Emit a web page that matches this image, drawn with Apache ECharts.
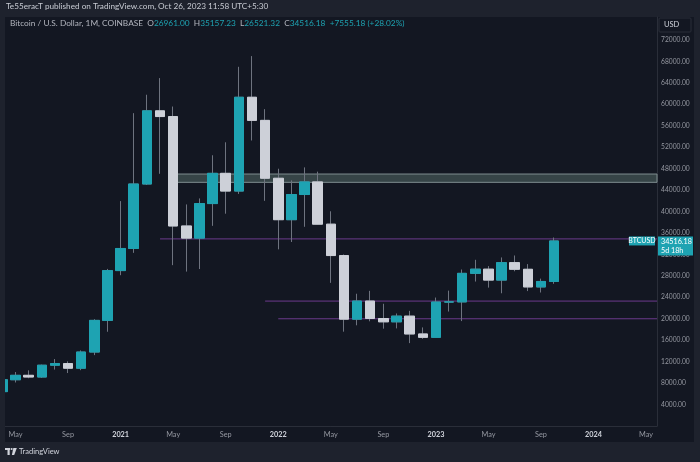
<!DOCTYPE html>
<html><head><meta charset="utf-8">
<script src="https://cdn.jsdelivr.net/npm/echarts@6/dist/echarts.min.js"></script>
<style>html,body{margin:0;padding:0;background:#1e222d;}#c{width:700px;height:462px;}</style>
</head><body><div id="c"></div>
<script>
// ---- data (monthly BTCUSD, Coinbase) ----
const months = ['2020-04','2020-05','2020-06','2020-07','2020-08','2020-09','2020-10','2020-11','2020-12',
  '2021-01','2021-02','2021-03','2021-04','2021-05','2021-06','2021-07','2021-08','2021-09','2021-10','2021-11','2021-12',
  '2022-01','2022-02','2022-03','2022-04','2022-05','2022-06','2022-07','2022-08','2022-09','2022-10','2022-11','2022-12',
  '2023-01','2023-02','2023-03','2023-04','2023-05','2023-06','2023-07','2023-08','2023-09','2023-10'];
const open  = [6412,8629,9454,9138,11335,11645,10777,13797,19700, 28990,33114,45138,58790,57720,37310,35045,41490,47130,43824,61319,57006, 46211,38483,43178,45530,37644,31793,19927,23307,20050,19431,20494,17168, 16542,23125,23147,28473,29252,27217,30472,29231,25941,26961.00];
const high  = [9460,10067,10380,11444,12486,12067,14100,19918,29300, 41950,58352,61788,64895,59592,41330,42448,50500,52920,67000,69000,59100, 47990,45821,48240,47444,40050,31990,24670,25212,22800,20989,21480,18390, 23960,25250,29190,31000,29830,31440,31804,30200,27488,35157.23];
const low   = [6150,8117,8910,8977,10525,9880,10416,13220,17580, 28130,32296,44950,47044,30000,28800,29278,37332,39600,43284,53256,42000, 32951,34323,37156,37697,26701,17592,18782,19530,18153,18205,15460,16256, 16500,21351,19569,26942,25811,24756,28861,25166,24901,26521.32];
const close = [8629,9454,9138,11335,11645,10777,13797,19700,28990, 33114,45138,58790,57720,37310,35045,41490,47130,43824,61319,57006,46211, 38483,43178,45530,37644,31793,19927,23307,20050,19431,20494,17168,16542, 23125,23147,28473,29252,27217,30472,29231,25941,26961,34516.18];
const timeTicks = ['2020-05','2020-09','2021-01','2021-05','2021-09','2022-01','2022-05','2022-09','2023-01','2023-05','2023-09','2024-01','2024-05'];
const monthNames = ['Jan','Feb','Mar','Apr','May','Jun','Jul','Aug','Sep','Oct','Nov','Dec'];
const levelValues = [34900, 23300, 20000];
const levelStarts = ['2021-04', '2021-12', '2022-01'];
const zoneRange = [45450, 47000];
const zoneStart = '2021-05';
const symbolName = 'BTCUSD';
const countdown = '5d 18h';

// ---- helpers ----
const idx = m => { const [y, mo] = m.split('-').map(Number); return (y - 2020) * 12 + (mo - 1); };
const X_MIN = 3.2, X_MAX = 52.83;
const UP = '#1ea3b2', DOWN = '#cdd0d8', WICK = '#6e737f', LEVEL = '#6b3a8c';
const FONT = 'Lato, "Noto Sans", sans-serif';
const OUTER = '#1e222d', PANEL = '#131722';

const wickData = months.map((m, i) => [idx(m), open[i], close[i], low[i], high[i]]);
const bodyData = months.map((m, i) => [idx(m), open[i], close[i], Math.min(open[i], close[i]), Math.max(open[i], close[i])]);

const n = close.length;
const chg = close[n - 1] - close[n - 2];
const pct = chg / close[n - 2] * 100;

const levelSeries = levelValues.map((v, i) => ({
  type: 'line', z: 2, silent: true, showSymbol: false, symbol: 'none',
  lineStyle: {color: LEVEL, width: 1},
  data: [[idx(levelStarts[i]), v], [X_MAX, v]]
}));

const chart = echarts.init(document.getElementById('c'), null, {renderer: 'canvas'});
chart.setOption({
  backgroundColor: OUTER,
  animation: false,
  grid: {left: 5, right: 43, top: 17, bottom: 36},
  xAxis: {
    type: 'value', min: X_MIN, max: X_MAX,
    splitLine: {show: false},
    axisTick: {show: false},
    axisLine: {show: true, lineStyle: {color: '#2a2e39', width: 1}},
    axisLabel: {
      customValues: timeTicks.map(idx),
      margin: 5,
      fontFamily: FONT, fontSize: 7.3, color: '#9598a1',
      formatter: v => { const m = Math.round(v) % 12; const y = 2020 + Math.floor(Math.round(v) / 12);
        return m === 0 ? '{y|' + y + '}' : monthNames[m]; },
      rich: {y: {fontFamily: FONT, fontSize: 7.3, color: '#d1d4dc', fontWeight: 'bold'}}
    }
  },
  yAxis: {
    type: 'value', position: 'right', min: 0, max: 76290, interval: 4000,
    splitLine: {show: false},
    axisTick: {show: false},
    axisLine: {show: true, lineStyle: {color: '#2a2e39', width: 1}},
    axisLabel: {
      margin: 4, align: 'left', fontFamily: FONT, fontSize: 6.7, color: '#9598a1',
      formatter: v => (v < 4000 || v > 72000) ? '' : v.toFixed(2)
    }
  },
  series: [
    {
      type: 'line', data: [], z: 1, silent: true,
      markArea: {
        silent: true,
        itemStyle: {color: '#364447', borderColor: '#7f8d90', borderWidth: 1},
        data: [[{coord: [idx(zoneStart), zoneRange[1]]}, {coord: [X_MAX, zoneRange[0]]}]]
      }
    },
    ...levelSeries,
    {
      type: 'candlestick', name: 'wick', z: 3, barWidth: 10, silent: true,
      encode: {x: 0, y: [1, 2, 3, 4]},
      data: wickData,
      itemStyle: {color: 'rgba(0,0,0,0)', color0: 'rgba(0,0,0,0)', borderColor: WICK, borderColor0: WICK, borderWidth: 1}
    },
    {
      type: 'candlestick', name: 'body', z: 4, barWidth: 10, silent: true,
      encode: {x: 0, y: [1, 2, 3, 4]},
      data: bodyData,
      itemStyle: {color: UP, color0: DOWN, borderColor: UP, borderColor0: DOWN, borderWidth: 1}
    }
  ]
});

const py = chart.convertToPixel({yAxisIndex: 0}, close[n - 1]);
const gx = chart.convertToPixel({xAxisIndex: 0}, X_MAX);

chart.setOption({
  graphic: [
    {type: 'rect', z: -10, silent: true, shape: {x: 5, y: 17, width: 689, height: 425}, style: {fill: PANEL}},
    {type: 'rect', z: 100, silent: true, shape: {x: 0, y: 0, width: 5, height: 462}, style: {fill: OUTER}},
    {type: 'text', z: 10, left: 6, top: 2, style: {text: 'Te55eracT published on TradingView.com, Oct 26, 2023 11:58 UTC+5:30', fill: '#c8cbd3', font: '8.2px ' + FONT}},
    {type: 'text', z: 10, left: 10, top: 19, style: {
      text: 'Bitcoin / U.S. Dollar, 1M, COINBASE  {k|O}{v|' + open[n-1].toFixed(2) + '}  {k|H}{v|' + high[n-1].toFixed(2) + '}  {k|L}{v|' + low[n-1].toFixed(2) + '}  {k|C}{v|' + close[n-1].toFixed(2) + '}  {v|+' + chg.toFixed(2) + ' (+' + pct.toFixed(2) + '%)}',
      fill: '#b2b5be', font: '8.3px ' + FONT,
      rich: {k: {fill: '#b2b5be', font: '8.3px ' + FONT}, v: {fill: UP, font: '8.3px ' + FONT}}
    }},
    {type: 'rect', z: 10, shape: {x: 659, y: 18, width: 32, height: 14, r: 1}, style: {fill: PANEL, stroke: '#2a2e39', lineWidth: 1}},
    {type: 'text', z: 11, left: 664, top: 21, style: {text: 'USD', fill: '#d1d4dc', font: '7.5px ' + FONT}},
    {type: 'rect', z: 10, shape: {x: gx - 28, y: py - 4.5, width: 26, height: 9}, style: {fill: UP}},
    {type: 'text', z: 11, x: gx - 15, y: py, style: {text: symbolName, fill: '#ffffff', font: '7px ' + FONT, align: 'center', verticalAlign: 'middle'}},
    {type: 'rect', z: 10, shape: {x: gx + 1, y: py - 4.5, width: 35, height: 19}, style: {fill: UP}},
    {type: 'text', z: 11, x: gx + 4, y: py - 3.5, style: {text: close[n - 1].toFixed(2) + '\n' + countdown, fill: '#ffffff', font: '7.2px ' + FONT, lineHeight: 9, verticalAlign: 'top'}},
    // TradingView logo
    {type: 'rect', z: 10, shape: {x: 5, y: 448, width: 5, height: 2}, style: {fill: '#d1d4dc'}},
    {type: 'rect', z: 10, shape: {x: 7.5, y: 448, width: 2.2, height: 7}, style: {fill: '#d1d4dc'}},
    {type: 'circle', z: 10, shape: {cx: 11.6, cy: 449, r: 1.1}, style: {fill: '#d1d4dc'}},
    {type: 'polygon', z: 10, shape: {points: [[13.3, 448], [16.8, 448], [14.2, 455], [11.9, 455]]}, style: {fill: '#d1d4dc'}},
    {type: 'text', z: 10, left: 19, top: 448, style: {text: 'TradingView', fill: '#d1d4dc', font: '7.5px ' + FONT}}
  ]
});
</script></body></html>
